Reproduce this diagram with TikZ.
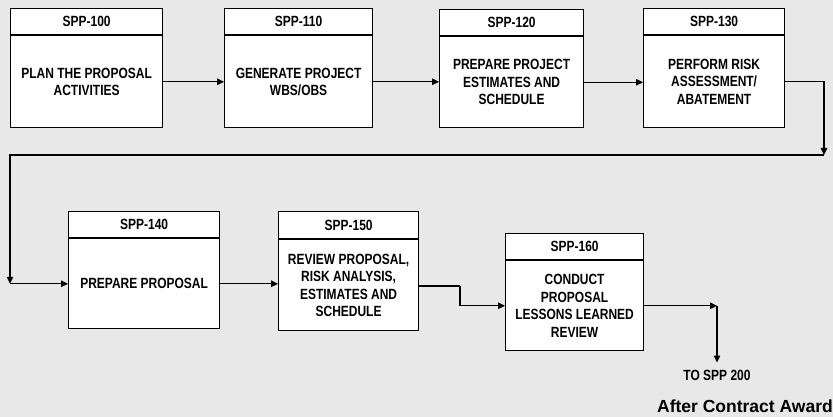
\documentclass[tikz,border=0pt]{standalone}
\usepackage{fontspec}
\setmainfont{Liberation Sans}[FakeStretch=0.81]
\newfontfamily\plainsans{Liberation Sans}
\usetikzlibrary{arrows.meta,positioning}

\tikzset{
  hdr/.style={draw=black, line width=1.2pt, fill=white, inner sep=0pt,
    anchor=north west, font=\bfseries\fontsize{14.8}{16}\selectfont},
  bodybox/.style={draw=black, line width=1.2pt, fill=white, inner sep=0pt,
    anchor=north, align=center, font=\bfseries\fontsize{14.8}{17.4}\selectfont},
  wire/.style={line width=1.3pt},
  flow/.style={wire, -{Triangle[length=7pt,width=6.5pt]}},
  lbl/.style={font=\bfseries\fontsize{14.8}{16}\selectfont, inner sep=0pt}
}

\begin{document}
\begin{tikzpicture}[x=1pt,y=-1pt]
  % canvas
  \fill[black!9] (0,0) rectangle (833,417);
  \useasboundingbox (0,0) rectangle (833,417);

  % top row
  \node[hdr, minimum width=152pt, minimum height=26pt] (h100) at (10,8) {SPP-100};
  \node[bodybox, minimum width=152pt, minimum height=92pt] (b100) at (h100.south)
    {PLAN THE PROPOSAL\\ACTIVITIES};

  \node[hdr, minimum width=148pt, minimum height=26pt] (h110) at (224,8) {SPP-110};
  \node[bodybox, minimum width=148pt, minimum height=92pt] (b110) at (h110.south)
    {GENERATE PROJECT\\WBS/OBS};

  \node[hdr, minimum width=144pt, minimum height=26pt] (h120) at (439,9) {SPP-120};
  \node[bodybox, minimum width=144pt, minimum height=91pt] (b120) at (h120.south)
    {PREPARE PROJECT\\ESTIMATES AND\\SCHEDULE};

  \node[hdr, minimum width=141pt, minimum height=26pt] (h130) at (643,8) {SPP-130};
  \node[bodybox, minimum width=141pt, minimum height=92pt] (b130) at (h130.south)
    {PERFORM RISK\\ASSESSMENT/\\ABATEMENT};

  % bottom row
  \node[hdr, minimum width=151pt, minimum height=26pt] (h140) at (68,211) {SPP-140};
  \node[bodybox, minimum width=151pt, minimum height=90pt] (b140) at (h140.south)
    {PREPARE PROPOSAL};

  \node[hdr, minimum width=140pt, minimum height=27pt] (h150) at (278,211) {SPP-150};
  \node[bodybox, minimum width=140pt, minimum height=91pt] (b150) at (h150.south)
    {REVIEW PROPOSAL,\\RISK ANALYSIS,\\ESTIMATES AND\\SCHEDULE};

  \node[hdr, minimum width=138pt, minimum height=26pt] (h160) at (505,233) {SPP-160};
  \node[bodybox, minimum width=138pt, minimum height=90pt] (b160) at (h160.south)
    {CONDUCT\\PROPOSAL\\LESSONS LEARNED\\REVIEW};

  % labels
  \node[lbl] (to200) at (717,375) {TO SPP 200};
  \node[inner sep=0pt, anchor=east, font=\plainsans\bfseries\fontsize{17.5}{20}\selectfont]
    (award) at (833,406) {After Contract Award};

  % routing points
  \coordinate (turnR) at (824,155);
  \coordinate (turnL) at (b140.west -| 10,0);
  \coordinate (jog) at (460,286);
  \coordinate (exitR) at (b160.east -| 717,0);

  % connectors
  \draw[flow] (b100.east) -- (b100.east -| b110.west);
  \draw[flow] (b110.east) -- (b110.east -| b120.west);
  \draw[flow] (b120.east) -- (b120.east -| b130.west);
  \draw[flow] (b130.east) -| (turnR);
  \draw[flow] (turnR) -| (turnL);
  \draw[flow] (turnL) -- (b140.west);
  \draw[flow] (b140.east) -- (b140.east -| b150.west);
  \draw[wire] (b150.east |- jog) -- (jog);
  \draw[flow] (jog) |- (b160.west);
  \draw[flow] (b160.east) -- (exitR);
  \draw[flow] (exitR) -- ([yshift=7pt]to200.north);
\end{tikzpicture}
\end{document}
